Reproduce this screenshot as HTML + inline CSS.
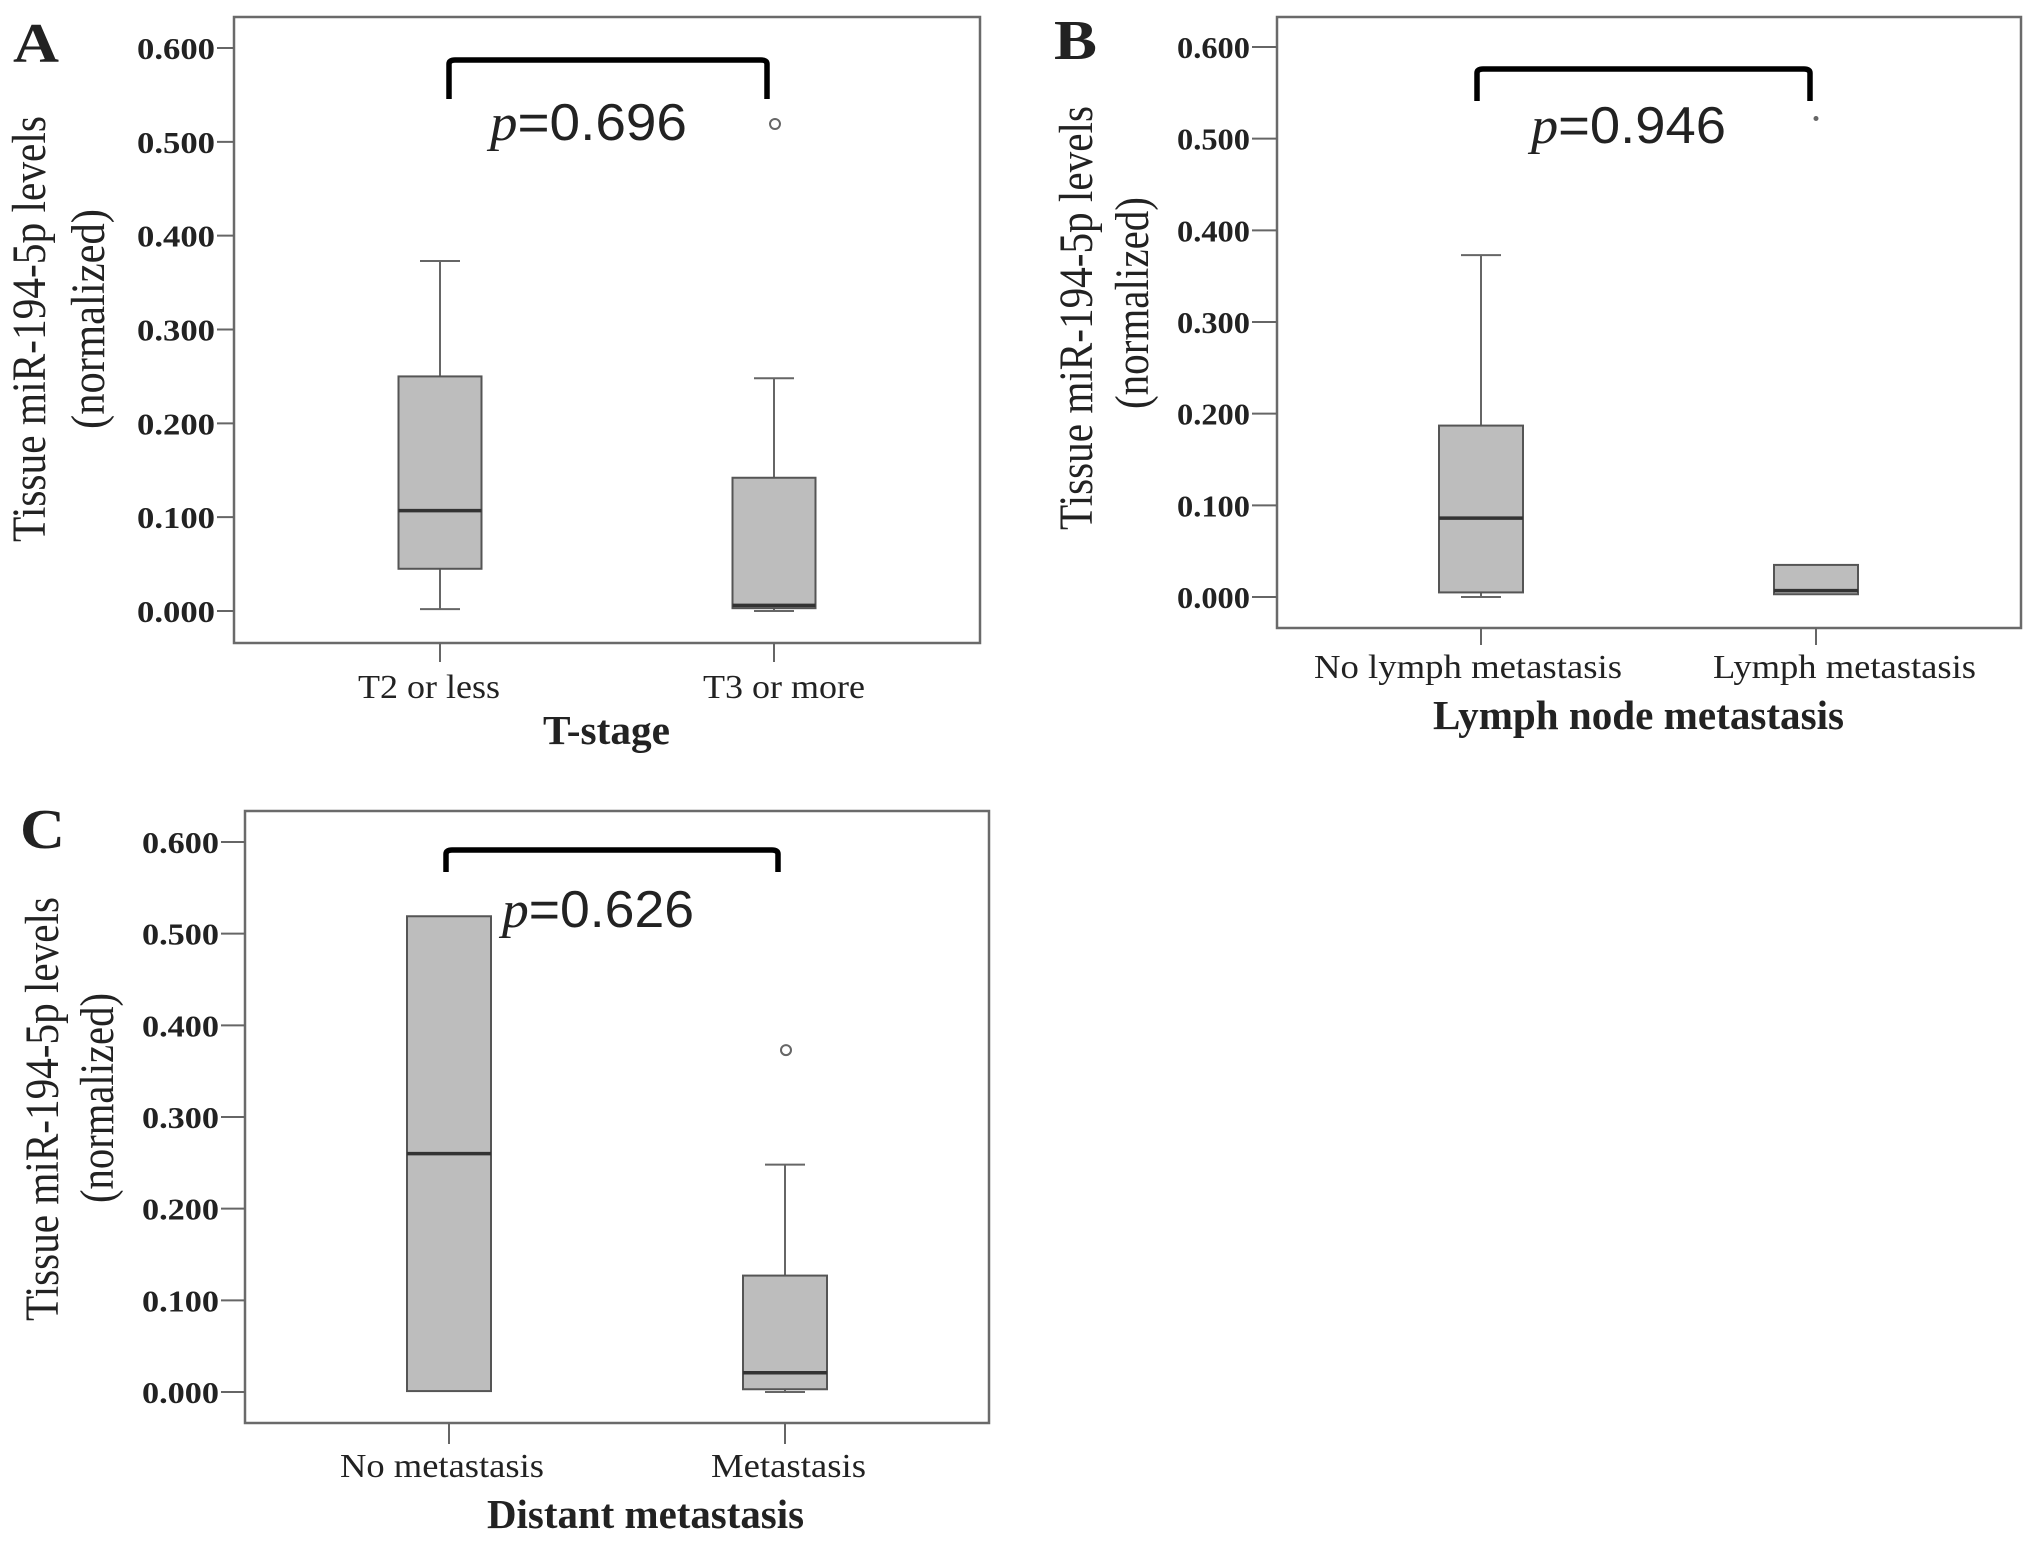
<!DOCTYPE html>
<html><head><meta charset="utf-8"><style>
html,body{margin:0;padding:0;background:#fff;}
svg{display:block;}
text{font-family:"Liberation Serif",serif;fill:#222;}
</style></head><body>
<svg id="fig" width="2031" height="1548" viewBox="0 0 2031 1548" xmlns="http://www.w3.org/2000/svg"></svg>
<script>
// Data
const panelIds = ['A','B','C'];
const categoriesA = ['T2 or less','T3 or more'];
const categoriesB = ['No lymph metastasis','Lymph metastasis'];
const categoriesC = ['No metastasis','Metastasis'];
// [whiskerLow, q1, median, q3, whiskerHigh]
const statsA = [[0.002,0.045,0.107,0.250,0.373],[0.000,0.003,0.006,0.142,0.248]];
const statsB = [[0.000,0.005,0.086,0.187,0.373],[0.003,0.003,0.007,0.035,0.035]];
const statsC = [[0.001,0.001,0.260,0.519,0.519],[0.000,0.003,0.021,0.127,0.248]];
const outliersA = [[],[0.519]];
const outliersB = [[],[0.522]];
const outliersC = [[],[0.373]];
const pValues = ['0.696','0.946','0.626'];
const xTitles = ['T-stage','Lymph node metastasis','Distant metastasis'];
const yTicks = [0,0.1,0.2,0.3,0.4,0.5,0.6];
const yTickLabels = ['0.000','0.100','0.200','0.300','0.400','0.500','0.600'];

const NS='http://www.w3.org/2000/svg';
const svg=document.getElementById('fig');
function mk(tag,attrs,parent){const e=document.createElementNS(NS,tag);for(const k in attrs)e.setAttribute(k,attrs[k]);(parent||svg).appendChild(e);return e;}
function txt(parent,s,x,y,len,size,opts){
  opts=opts||{};
  const t=mk('text',{x:x,y:y,'font-size':size,textLength:len,lengthAdjust:'spacingAndGlyphs','text-anchor':opts.anchor||'start'},parent);
  if(opts.weight)t.setAttribute('font-weight',opts.weight);
  if(opts.transform)t.setAttribute('transform',opts.transform);
  t.textContent=s;return t;
}

// Layout (pixels)
const layouts=[
 {frame:[234,17,980,643],y0:611,y6:48,cx:[440,774],bw:83,tickL:[137,215],letter:[13,62,46],
  yl1:[33,116,542],yl2:[92,209,429],catBase:698,cats:[[358,500],[703,865]],title:[543,670,744],
  br:[449,767,60,99],p:[490,687,140],xt:662,outStyle:'circle'},
 {frame:[1277,17,2021,628],y0:597,y6:47,cx:[1481,1816],bw:84,tickL:[1177,1250],letter:[1054,59,43],
  yl1:[1080,106,530],yl2:[1136,197,409],catBase:678,cats:[[1314,1622],[1713,1976]],title:[1433,1844,729],
  br:[1477,1810,69,101],p:[1531,1726,143],xt:645,outStyle:'star'},
 {frame:[245,811,989,1423],y0:1392,y6:842,cx:[449,785],bw:84,tickL:[142,219],letter:[20,848,45],
  yl1:[46,897,1321],yl2:[101,993,1203],catBase:1477,cats:[[340,544],[711,866]],title:[487,804,1528],
  br:[446,778,850,872],p:[502,694,927],xt:1444,outStyle:'circle'}
];
const allCats=[categoriesA,categoriesB,categoriesC];
const allStats=[statsA,statsB,statsC];
const allOut=[outliersA,outliersB,outliersC];

layouts.forEach((L,i)=>{
  const g=mk('g',{});
  
  
  const ys=v=>L.y0+(L.y6-L.y0)*(v/0.6);
  const [fx1,fy1,fx2,fy2]=L.frame;
  const fr=mk('rect',{x:fx1,y:fy1,width:fx2-fx1,height:fy2-fy1,fill:'none',stroke:'#6a6a6a','stroke-width':2.5},g);
  
  
  const lt=txt(g,panelIds[i],L.letter[0],L.letter[1],L.letter[2],56,{weight:'bold'});
  
  
  yTicks.forEach((v,k)=>{
    const y=ys(v);
    const tl=mk('line',{x1:L.tickL[1]+2,x2:fx1,y1:y,y2:y,stroke:'#666','stroke-width':2},g);
    
    
    const t=txt(g,yTickLabels[k],L.tickL[0],y+11,L.tickL[1]-L.tickL[0],31,{weight:'bold'});
    t.setAttribute('fill','#333');
    
    
  });
  const c1=(L.yl1[1]+L.yl1[2])/2, c2=(L.yl2[1]+L.yl2[2])/2;
  const y1=txt(g,'Tissue miR-194-5p levels',L.yl1[0]+12,c1,L.yl1[2]-L.yl1[1],37,{anchor:'middle',transform:'translate('+(L.yl1[0]+12)+','+c1+') scale(1.3,1) rotate(-90) translate('+(-(L.yl1[0]+12))+','+(-c1)+')'});
  
  
  const y2=txt(g,'(normalized)',L.yl2[0]+12,c2,L.yl2[2]-L.yl2[1],37,{anchor:'middle',transform:'translate('+(L.yl2[0]+12)+','+c2+') scale(1.3,1) rotate(-90) translate('+(-(L.yl2[0]+12))+','+(-c2)+')'});
  
  
  allCats[i].forEach((c,j)=>{
    const cx=L.cx[j], s=allStats[i][j], hw=L.bw/2;
    const xt=mk('line',{x1:cx,x2:cx,y1:fy2,y2:L.xt,stroke:'#666','stroke-width':2},g);
    
    
    const cl=txt(g,c,L.cats[j][0],L.catBase,L.cats[j][1]-L.cats[j][0],34);
    
    
    const bg=mk('g',{},g);
    
    
    if(s[4]>s[3]){mk('line',{x1:cx,x2:cx,y1:ys(s[3]),y2:ys(s[4]),stroke:'#666','stroke-width':2},bg);
      mk('line',{x1:cx-20,x2:cx+20,y1:ys(s[4]),y2:ys(s[4]),stroke:'#666','stroke-width':2},bg);}
    if(s[0]<s[1]){mk('line',{x1:cx,x2:cx,y1:ys(s[1]),y2:ys(s[0]),stroke:'#666','stroke-width':2},bg);
      mk('line',{x1:cx-20,x2:cx+20,y1:ys(s[0]),y2:ys(s[0]),stroke:'#666','stroke-width':2},bg);}
    mk('rect',{x:cx-hw,y:ys(s[3]),width:L.bw,height:Math.max(2,ys(s[1])-ys(s[3])),fill:'#bdbdbd',stroke:'#555','stroke-width':2},bg);
    mk('line',{x1:cx-hw,x2:cx+hw,y1:ys(s[2]),y2:ys(s[2]),stroke:'#333','stroke-width':3.5},bg);
    allOut[i][j].forEach(v=>{
      let o;
      if(L.outStyle==='circle') o=mk('circle',{cx:cx+1,cy:ys(v),r:5,fill:'none',stroke:'#666','stroke-width':2},g);
      else o=mk('circle',{cx:cx,cy:ys(v),r:2.5,fill:'#666'},g);
      
      
    });
  });
  const tt=txt(g,xTitles[i],L.title[0],L.title[2],L.title[1]-L.title[0],41,{weight:'bold'});
  
  
  const [bx1,bx2,by1,by2]=L.br;
  const br=mk('path',{d:'M'+bx1+','+by2+' L'+bx1+','+(by1+4)+' Q'+bx1+','+by1+' '+(bx1+6)+','+by1+' L'+(bx2-6)+','+by1+' Q'+bx2+','+by1+' '+bx2+','+(by1+4)+' L'+bx2+','+by2,fill:'none',stroke:'#000','stroke-width':5.5},g);
  
  
  const pt=mk('text',{x:L.p[0],y:L.p[2],'font-size':52,textLength:L.p[1]-L.p[0],lengthAdjust:'spacingAndGlyphs'},g);
  
  
  const ps=mk('tspan',{'font-style':'italic',style:'font-family:"Liberation Serif",serif'},pt);ps.textContent='p';
  const pv=mk('tspan',{style:'font-family:"Liberation Sans",sans-serif'},pt);pv.textContent='='+pValues[i];
});
</script>
</body></html>
